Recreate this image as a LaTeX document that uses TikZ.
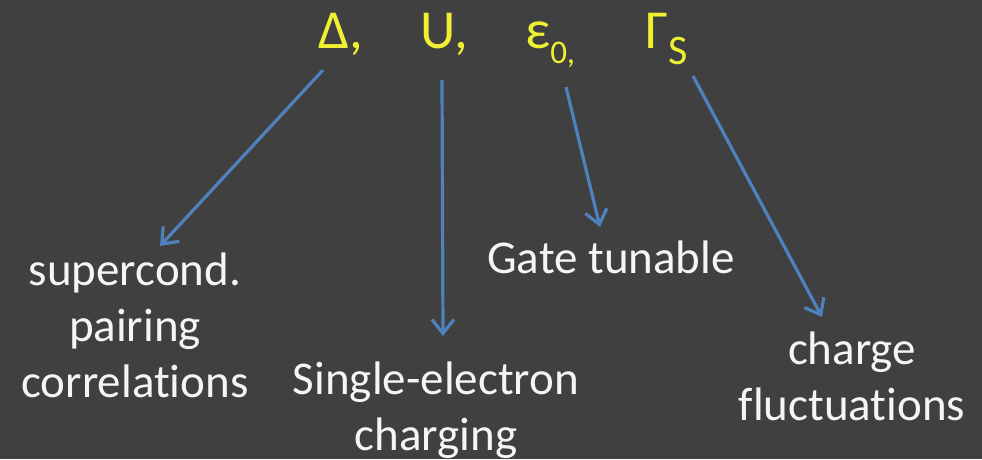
\documentclass[tikz,border=0pt]{standalone}
\usepackage{fontspec}
\setmainfont{Carlito}[Ligatures=NoCommon]
\usetikzlibrary{arrows.meta}
\definecolor{bg}{RGB}{64,64,64}
\definecolor{sym}{RGB}{240,240,50}
\definecolor{arrowblue}{RGB}{79,129,189}
\definecolor{txt}{RGB}{245,245,245}
\begin{document}
\begin{tikzpicture}[x=1pt,y=-1pt,
  symbol/.style={anchor=base west,inner sep=0pt,text=sym,font=\fontsize{55}{60}\selectfont},
  label/.style={anchor=base,inner sep=0pt,align=center,text=txt,font=\fontsize{47}{56}\selectfont},
  conn/.style={draw=arrowblue,line width=3.2pt,-{Straight Barb[length=14pt,width=22pt]}}]
\fill[bg] (0,0) rectangle (982,459);
\useasboundingbox (0,0) rectangle (982,459);
% symbols
\node[symbol] (d) at (318,48) {Δ,};
\node[symbol] (u) at (420,48) {U,};
\node[symbol] (e) at (525,48) {ε\raisebox{-15pt}{\fontsize{33}{33}\selectfont 0,}};
\node[symbol] (g) at (645,48) {Γ\raisebox{-16pt}{\fontsize{42}{42}\selectfont S}};
% labels (base = baseline of last line)
\node[label] (sc) at (135,397) {supercond.\\pairing\\correlations};
\node[label] (se) at (436,450) {Single-electron\\charging};
\node[label] (gt) at (611,273) {Gate tunable};
\node[label] (cf) at (852,420) {charge\\fluctuations};
% arrow endpoints
\coordinate (d0) at (323,70);  \coordinate (d1) at (160,246);
\coordinate (u0) at (442,80);  \coordinate (u1) at (443,336);
\coordinate (e0) at (566,87);  \coordinate (e1) at (600,227);
\coordinate (g0) at (693,76);  \coordinate (g1) at (822,317);
\draw[conn] (d0) -- (d1);
\draw[conn] (u0) -- (u1);
\draw[conn] (e0) -- (e1);
\draw[conn] (g0) -- (g1);
\end{tikzpicture}
\end{document}
